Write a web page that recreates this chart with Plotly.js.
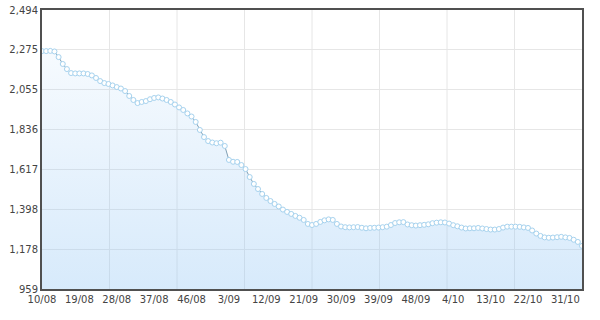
<!DOCTYPE html>
<html>
<head>
<meta charset="utf-8">
<script src="https://cdn.plot.ly/plotly-3.0.1.min.js"></script>
<style>
html,body{margin:0;padding:0;background:#fff;}
#chart{width:600px;height:320px;}
</style>
</head>
<body>
<div id="chart"></div>
<script>
// Weekly categories (week/yy)
const weeks = [
"10/08","11/08","12/08","13/08","14/08","15/08","16/08","17/08","18/08","19/08",
"20/08","21/08","22/08","23/08","24/08","25/08","26/08","27/08","28/08","29/08",
"30/08","31/08","32/08","33/08","34/08","35/08","36/08","37/08","38/08","39/08",
"40/08","41/08","42/08","43/08","44/08","45/08","46/08","47/08","48/08","49/08",
"50/08","51/08","52/08",
"1/09","2/09","3/09","4/09","5/09","6/09","7/09","8/09","9/09","10/09",
"11/09","12/09","13/09","14/09","15/09","16/09","17/09","18/09","19/09","20/09",
"21/09","22/09","23/09","24/09","25/09","26/09","27/09","28/09","29/09","30/09",
"31/09","32/09","33/09","34/09","35/09","36/09","37/09","38/09","39/09","40/09",
"41/09","42/09","43/09","44/09","45/09","46/09","47/09","48/09","49/09","50/09",
"51/09","52/09","53/09",
"1/10","2/10","3/10","4/10","5/10","6/10","7/10","8/10","9/10","10/10",
"11/10","12/10","13/10","14/10","15/10","16/10","17/10","18/10","19/10","20/10",
"21/10","22/10","23/10","24/10","25/10","26/10","27/10","28/10","29/10","30/10",
"31/10","32/10","33/10","34/10","35/10"
];

const values = [
2268,2268,2269,2266,2235,2197,2169,2147,2145,2145,
2145,2142,2134,2120,2103,2092,2087,2079,2070,2062,
2048,2021,1999,1982,1988,1993,2003,2010,2013,2007,
1999,1988,1974,1958,1944,1925,1908,1878,1834,1795,
1773,1765,1761,1764,1746,1669,1659,1658,1641,1619,
1575,1537,1509,1482,1460,1443,1427,1413,1396,1383,
1372,1361,1351,1339,1317,1311,1317,1328,1337,1342,
1339,1317,1303,1299,1298,1299,1300,1296,1293,1295,
1296,1297,1299,1302,1311,1322,1326,1327,1314,1310,
1308,1310,1312,1315,1321,1324,1326,1325,1319,1310,
1304,1297,1292,1293,1293,1295,1292,1289,1286,1286,
1289,1297,1302,1302,1302,1301,1298,1295,1281,1264,
1251,1243,1241,1242,1244,1246,1243,1240,1230,1218,
1196
];

const xTickLabels = ["10/08","19/08","28/08","37/08","46/08","3/09","12/09","21/09","30/09","39/09","48/09","4/10","13/10","22/10","31/10"];
const yTickVals = [959, 1178.29, 1397.57, 1616.86, 1836.14, 2055.43, 2274.71, 2494];
const yTickText = ["959","1,178","1,398","1,617","1,836","2,055","2,275","2,494"];
const yRange = [959, 2494];

const trace = {
  type: 'scatter',
  mode: 'lines+markers',
  x: weeks,
  y: values,
  fill: 'tozeroy',
  fillgradient: {
    type: 'vertical',
    start: yRange[0],
    stop: yRange[1],
    colorscale: [[0, 'rgba(150,200,245,0.38)'], [1, 'rgba(150,200,245,0.03)']]
  },
  line: {color: '#7f9fb4', width: 1},
  marker: {symbol: 'circle', size: 5, color: '#ffffff', line: {color: '#a6d2ee', width: 1}},
  hoverinfo: 'x+y'
};

const vgrid = [];
for (let k = 1; k < 8; k++) {
  vgrid.push({type: 'line', xref: 'x domain', yref: 'y domain', x0: k/8, x1: k/8, y0: 0, y1: 1,
    line: {color: '#e6e6e6', width: 1}, layer: 'below'});
}

const layout = {
  width: 600, height: 320,
  margin: {l: 42, r: 18, t: 10, b: 31, pad: 0},
  paper_bgcolor: '#ffffff',
  plot_bgcolor: '#ffffff',
  showlegend: false,
  font: {family: 'DejaVu Sans, Verdana, sans-serif', size: 10, color: '#444444'},
  xaxis: {
    type: 'category',
    range: [0, weeks.length - 1],
    tickmode: 'array',
    tickvals: xTickLabels,
    ticktext: xTickLabels,
    showgrid: false,
    zeroline: false,
    showline: true, mirror: true, linecolor: '#505050', linewidth: 2,
    ticks: '', tickfont: {family: 'DejaVu Sans, Verdana, sans-serif', size: 10, color: '#444444'}
  },
  yaxis: {
    range: yRange,
    tickmode: 'array',
    tickvals: yTickVals,
    ticktext: yTickText,
    showgrid: true, gridcolor: '#e6e6e6', gridwidth: 1,
    zeroline: false,
    showline: true, mirror: true, linecolor: '#505050', linewidth: 2,
    ticks: '', tickfont: {family: 'DejaVu Sans, Verdana, sans-serif', size: 10, color: '#444444'}
  },
  shapes: vgrid
};

Plotly.newPlot('chart', [trace], layout, {displayModeBar: false, staticPlot: true});
</script>
</body>
</html>
